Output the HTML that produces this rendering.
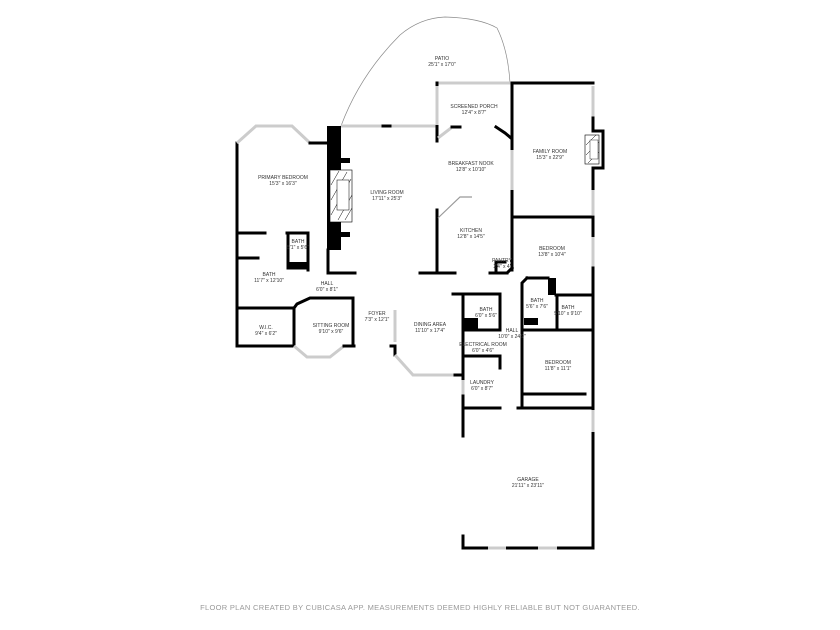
<!DOCTYPE html>
<html><head><meta charset="utf-8"><style>
html,body{margin:0;padding:0;background:#fff;}
svg{display:block}
text{font-family:"Liberation Sans",sans-serif;fill:#333;text-anchor:middle;font-size:5px}
.w{stroke:#000;stroke-width:3;fill:none;stroke-linecap:square}
.t{stroke:#000;stroke-width:1.5;fill:none}
.g{stroke:#ccc;stroke-width:3;fill:none}
</style></head><body>
<svg width="840" height="630" viewBox="0 0 840 630">
<rect width="840" height="630" fill="#fff"/>
<!-- patio -->
<path d="M341,126 Q360,75 400,35 Q420,18 445,17 Q480,18 497,28 Q508,50 510,83" fill="none" stroke="#888" stroke-width="0.7"/>
<!-- primary bedroom -->
<polyline class="w" points="237,346 237,143"/>
<polyline class="g" points="237,143 256,126 292,126 310,143"/>
<polyline class="w" points="310,143 330,143"/>
<rect x="327" y="126" width="14" height="124" fill="#000"/>
<rect x="330" y="170" width="22" height="52" fill="#fff" stroke="#000" stroke-width="0.6"/>
<path d="M331,185 l8,-14 M331,200 l16,-28 M331,215 l20,-36 M338,220 l14,-25 M345,220 l7,-12" stroke="#000" stroke-width="0.5"/>
<rect x="337" y="180" width="12" height="30" fill="#fff" stroke="#000" stroke-width="0.5"/>
<rect x="340" y="158" width="10" height="5" fill="#000"/>
<rect x="340" y="232" width="10" height="5" fill="#000"/>
<!-- living top -->
<line class="g" x1="341" y1="126" x2="437" y2="126"/>
<line class="w" x1="383" y1="126" x2="390" y2="126"/>
<line class="w" x1="437" y1="126" x2="437" y2="137"/>
<!-- bath area -->
<polyline class="w" points="237,233 265,233"/>
<polyline class="w" points="287,233 308,233 308,270"/>
<polyline class="w" points="288,233 288,268 308,268"/>
<rect x="288" y="262" width="20" height="7" fill="#000"/>
<line class="w" x1="237" y1="258" x2="258" y2="258"/>
<line class="w" x1="328" y1="250" x2="328" y2="273"/>
<line class="w" x1="328" y1="273" x2="355" y2="273"/>
<line class="w" x1="420" y1="273" x2="455" y2="273"/>
<line class="w" x1="490" y1="273" x2="507" y2="273"/>
<!-- lower left -->
<polyline class="w" points="237,308 263,308"/>
<polyline class="w" points="258,308 294,308"/>
<polyline class="w" points="294,308 297,304 310,298 353,298 353,343"/>
<line class="w" x1="294" y1="308" x2="294" y2="346"/>
<polyline class="w" points="237,346 294,346"/>
<polyline class="g" points="294,346 307,357 330,357 344,346"/>
<line class="w" x1="344" y1="346" x2="354" y2="346"/>
<!-- dining -->
<line class="g" x1="395" y1="310" x2="395" y2="342"/>
<polyline class="w" points="391,346 395,346 395,355"/>
<polyline class="g" points="395,355 413,375 455,375"/>
<line class="w" x1="455" y1="375" x2="463" y2="375"/>
<!-- kitchen -->
<line class="w" x1="437" y1="210" x2="437" y2="273"/>
<polyline points="438,218 460,197 472,197" fill="none" stroke="#999" stroke-width="1.2"/>
<line class="w" x1="437" y1="137" x2="437" y2="140"/>
<line class="w" x1="437" y1="127" x2="437" y2="141"/>
<!-- screened porch -->
<line class="g" x1="437" y1="83" x2="512" y2="83"/>
<line class="w" x1="437" y1="83" x2="437" y2="85"/>
<line class="g" x1="437" y1="86" x2="437" y2="125"/>
<polyline class="g" points="438,138 451,128"/>
<line class="w" x1="452" y1="127" x2="460" y2="127"/>
<polyline class="w" points="496,127 505,133 511,138"/>
<!-- family room -->
<line class="w" x1="512" y1="83" x2="512" y2="270"/>
<line class="g" x1="512" y1="150" x2="512" y2="190"/>
<line class="w" x1="512" y1="83" x2="593" y2="83"/>
<line class="g" x1="593" y1="86" x2="593" y2="118"/>
<line class="w" x1="593" y1="118" x2="593" y2="131"/>
<polyline class="w" points="593,131 603,131 603,168 593,168"/>
<rect x="585" y="135" width="14" height="29" fill="#fff" stroke="#000" stroke-width="0.6"/>
<path d="M586,145 l10,-10 M586,155 l13,-13 M588,163 l11,-11" stroke="#000" stroke-width="0.5"/>
<rect x="590" y="140" width="8" height="19" fill="#fff" stroke="#000" stroke-width="0.4"/>
<line class="w" x1="593" y1="168" x2="593" y2="190"/>
<line class="g" x1="593" y1="190" x2="593" y2="215"/>
<line class="w" x1="512" y1="217" x2="593" y2="217"/>
<line class="w" x1="593" y1="217" x2="593" y2="237"/>
<line class="g" x1="593" y1="237" x2="593" y2="268"/>
<line class="w" x1="593" y1="268" x2="593" y2="410"/>
<!-- pantry -->
<polyline class="w" points="496,272 496,262 505,262"/>
<polyline class="w" points="500,273 507,273 512,268"/>
<!-- center right block -->
<polyline class="w" points="453,294 500,294 500,330"/>
<line class="w" x1="463" y1="294" x2="463" y2="408"/>
<rect x="463" y="318" width="15" height="11" fill="#000"/>
<line class="w" x1="463" y1="330" x2="500" y2="330"/>
<line class="w" x1="463" y1="356" x2="500" y2="356"/>
<line class="w" x1="500" y1="356" x2="500" y2="368"/>
<line class="g" x1="463" y1="380" x2="463" y2="408"/>
<line class="w" x1="463" y1="396" x2="463" y2="408"/>
<!-- right baths -->
<polyline class="w" points="527,278 522,283 522,330"/>
<line class="w" x1="527" y1="278" x2="548" y2="278"/>
<rect x="548" y="278" width="8" height="17" fill="#000"/>
<line class="w" x1="556" y1="295" x2="593" y2="295"/>
<line class="w" x1="557" y1="295" x2="557" y2="330"/>
<rect x="524" y="318" width="14" height="7" fill="#000"/>
<line class="w" x1="522" y1="330" x2="593" y2="330"/>
<line class="w" x1="522" y1="330" x2="522" y2="408"/>
<line class="w" x1="524" y1="394" x2="585" y2="394"/>
<line class="w" x1="518" y1="408" x2="593" y2="408"/>
<!-- garage -->
<line class="w" x1="463" y1="408" x2="500" y2="408"/>
<line class="w" x1="463" y1="408" x2="463" y2="436"/>
<line class="w" x1="463" y1="536" x2="463" y2="548"/>
<line class="w" x1="463" y1="548" x2="593" y2="548"/>
<line class="g" x1="488" y1="548" x2="506" y2="548"/>
<line class="g" x1="538" y1="548" x2="557" y2="548"/>
<line class="w" x1="593" y1="433" x2="593" y2="548"/>
<line class="g" x1="593" y1="410" x2="593" y2="432"/>
<!-- labels -->
<text x="442" y="60">PATIO</text><text x="442" y="66">25'1" x 17'0"</text>
<text x="474" y="108">SCREENED PORCH</text><text x="474" y="114">12'4" x 8'7"</text>
<text x="471" y="165">BREAKFAST NOOK</text><text x="471" y="171">12'8" x 10'10"</text>
<text x="283" y="179">PRIMARY BEDROOM</text><text x="283" y="185">15'3" x 16'3"</text>
<text x="387" y="194">LIVING ROOM</text><text x="387" y="200">17'11" x 25'3"</text>
<text x="550" y="153">FAMILY ROOM</text><text x="550" y="159">15'3" x 22'9"</text>
<text x="471" y="232">KITCHEN</text><text x="471" y="238">12'8" x 14'5"</text>
<text x="552" y="250">BEDROOM</text><text x="552" y="256">13'8" x 10'4"</text>
<text x="298" y="243">BATH</text><text x="298" y="249">5'1" x 5'6"</text>
<text x="502" y="262">PANTRY</text><text x="502" y="268">2'4" x 4'</text>
<text x="269" y="276">BATH</text><text x="269" y="282">11'7" x 12'10"</text>
<text x="327" y="285">HALL</text><text x="327" y="291">6'0" x 8'1"</text>
<text x="537" y="302">BATH</text><text x="537" y="308">5'6" x 7'6"</text>
<text x="568" y="309">BATH</text><text x="568" y="315">5'10" x 9'10"</text>
<text x="486" y="311">BATH</text><text x="486" y="317">6'0" x 5'6"</text>
<text x="377" y="315">FOYER</text><text x="377" y="321">7'3" x 12'1"</text>
<text x="331" y="327">SITTING ROOM</text><text x="331" y="333">9'10" x 9'6"</text>
<text x="512" y="332">HALL</text><text x="512" y="338">10'0" x 24'9"</text>
<text x="430" y="326">DINING AREA</text><text x="430" y="332">11'10" x 17'4"</text>
<text x="483" y="346">ELECTRICAL ROOM</text><text x="483" y="352">6'0" x 4'6"</text>
<text x="558" y="364">BEDROOM</text><text x="558" y="370">11'8" x 11'1"</text>
<text x="266" y="329">W.I.C.</text><text x="266" y="335">9'4" x 6'2"</text>
<text x="482" y="384">LAUNDRY</text><text x="482" y="390">6'0" x 8'7"</text>
<text x="528" y="481">GARAGE</text><text x="528" y="487">21'11" x 23'11"</text>
<text x="420" y="610" style="font-size:7.5px;fill:#999;letter-spacing:0.3px">FLOOR PLAN CREATED BY CUBICASA APP. MEASUREMENTS DEEMED HIGHLY RELIABLE BUT NOT GUARANTEED.</text>
</svg>
</body></html>
